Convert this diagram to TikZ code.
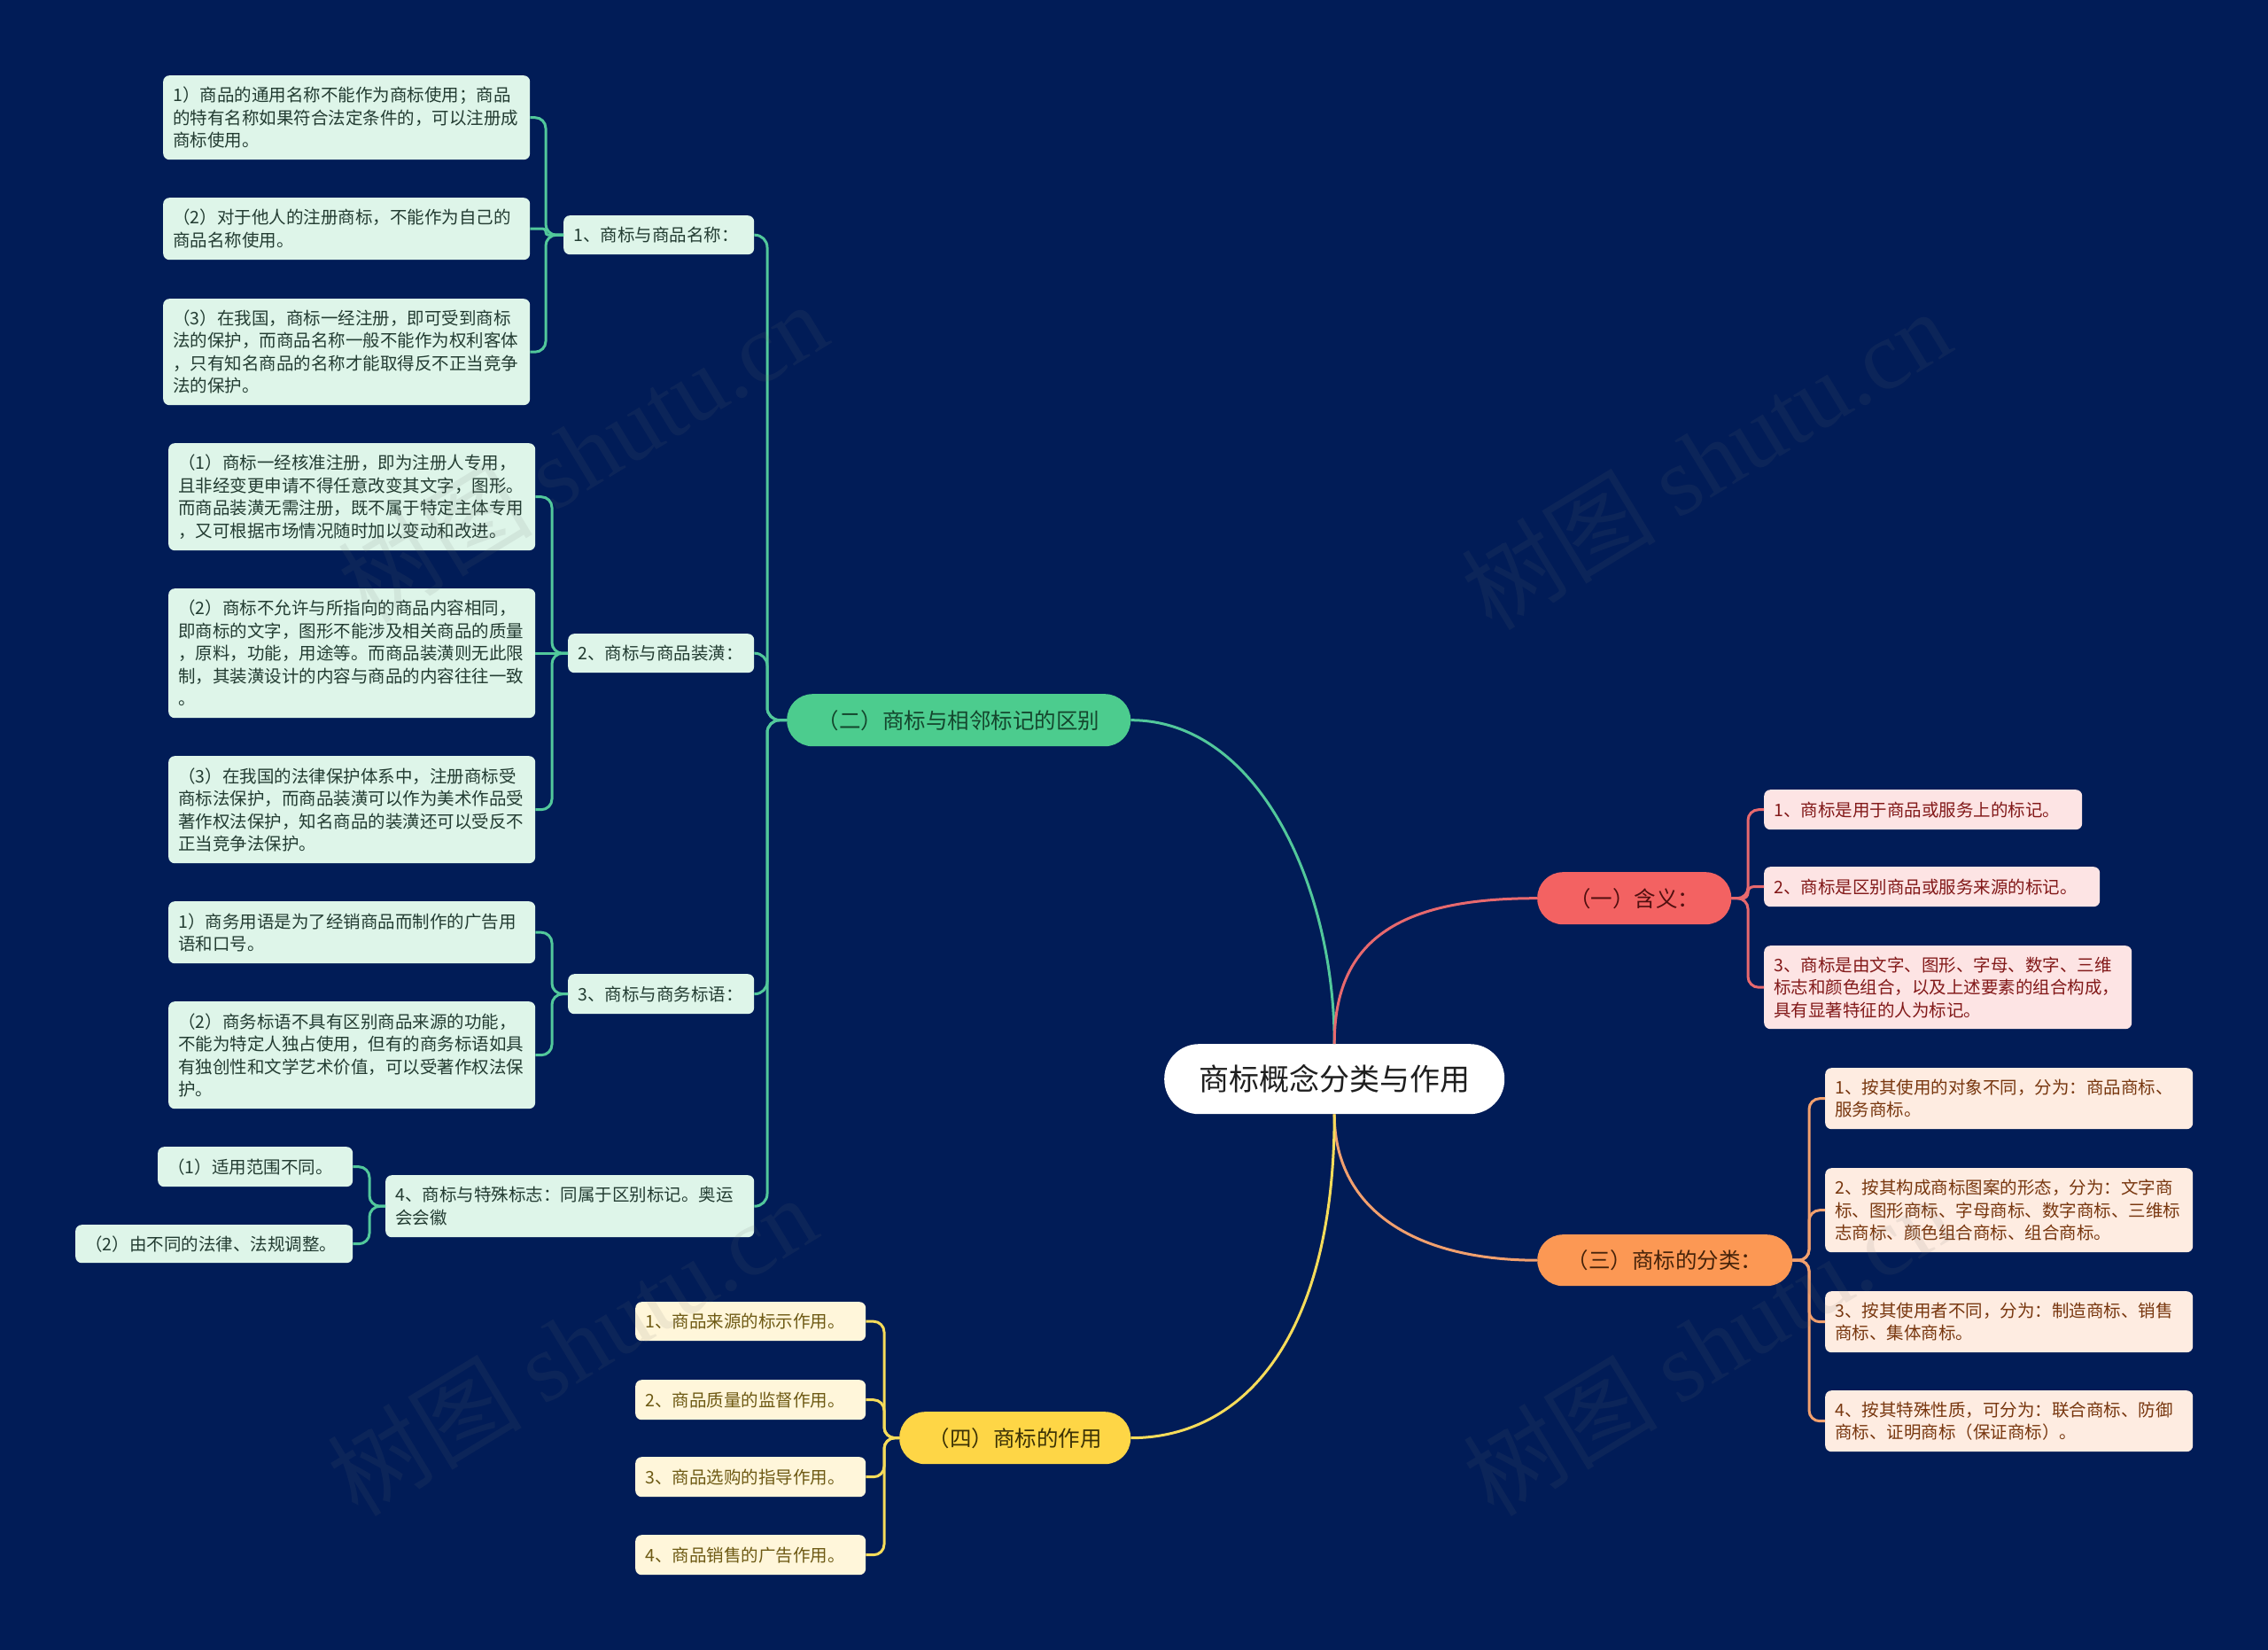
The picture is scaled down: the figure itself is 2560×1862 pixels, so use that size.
\documentclass[tikz,border=0pt]{standalone}
\usepackage{fontspec}
\setmainfont{Noto Sans CJK SC}
\newfontfamily\wmserif{Liberation Serif}
\usetikzlibrary{calc}

\definecolor{bg}{RGB}{1,28,87}
\definecolor{gMain}{RGB}{76,204,142}
\definecolor{gLight}{RGB}{222,245,233}
\definecolor{gText}{RGB}{35,60,50}
\definecolor{gMainText}{RGB}{20,70,45}
\definecolor{gLine}{RGB}{82,200,155}
\definecolor{pMain}{RGB}{243,98,98}
\definecolor{pLight}{RGB}{253,228,228}
\definecolor{pText}{RGB}{130,25,25}
\definecolor{pMainText}{RGB}{80,15,15}
\definecolor{pLine}{RGB}{232,105,110}
\definecolor{oMain}{RGB}{252,152,84}
\definecolor{oLight}{RGB}{254,236,225}
\definecolor{oText}{RGB}{120,55,15}
\definecolor{oMainText}{RGB}{70,35,10}
\definecolor{oLine}{RGB}{242,160,110}
\definecolor{yMain}{RGB}{254,214,70}
\definecolor{yLight}{RGB}{255,246,218}
\definecolor{yText}{RGB}{110,90,20}
\definecolor{yMainText}{RGB}{60,50,5}
\definecolor{yLine}{RGB}{246,220,90}
\definecolor{rootText}{RGB}{30,30,30}
\definecolor{wm}{RGB}{110,110,110}

\newcommand\leaffont{\fontsize{19.5pt}{25.5pt}\selectfont}
\newcommand\brfont{\fontsize{24.5pt}{30pt}\selectfont}
\newcommand\rtfont{\fontsize{34pt}{40pt}\selectfont}
\newcommand\wmfont{\fontsize{110pt}{120pt}\selectfont}

\tikzset{
  leafbox/.style={anchor=north west, rounded corners=7pt, inner xsep=11pt, inner ysep=0pt, align=left, font=\leaffont},
  gleaf/.style={leafbox, fill=gLight, text=gText},
  pleaf/.style={leafbox, fill=pLight, text=pText},
  oleaf/.style={leafbox, fill=oLight, text=oText},
  yleaf/.style={leafbox, fill=yLight, text=yText},
  branch/.style={anchor=north west, rounded corners=29pt, inner sep=0pt, align=center, font=\brfont},
  conn/.style={line width=3pt},
  gline/.style={conn, draw=gLine},
  pline/.style={conn, draw=pLine},
  oline/.style={conn, draw=oLine},
  yline/.style={conn, draw=yLine},
  bend12/.style={rounded corners=12pt},
  wmark/.style={rotate=31.3, text=wm, opacity=0.11, font=\wmfont, inner sep=0pt}
}

\begin{document}
\begin{tikzpicture}[x=1pt,y=-1pt]
\useasboundingbox (0,0) rectangle (2560,1862);
\fill[bg] (0,0) rectangle (2560,1862);

% root
\node[anchor=north west, rounded corners=39pt, fill=white, text=rootText, font=\rtfont,
      minimum width=384pt, minimum height=79pt, inner sep=0pt] (root) at (1314,1178) {商标概念分类与作用};

% branches
\node[branch, fill=gMain, text=gMainText, minimum width=388pt, minimum height=59pt] (n2) at (888,783) {（二）商标与相邻标记的区别};
\node[branch, fill=pMain, text=pMainText, minimum width=219pt, minimum height=59pt] (n1) at (1735,984) {（一）含义：};
\node[branch, fill=oMain, text=oMainText, minimum width=288pt, minimum height=58pt] (n3) at (1735,1393) {（三）商标的分类：};
\node[branch, fill=yMain, text=yMainText, minimum width=261pt, minimum height=59pt] (n4) at (1015,1593) {（四）商标的作用};

% green level 1
\node[gleaf, text width=193pt, minimum height=44pt] (L11) at (636,243) {1、商标与商品名称：};
\node[gleaf, text width=188pt, minimum height=44pt] (L12) at (641,715) {2、商标与商品装潢：};
\node[gleaf, text width=188pt, minimum height=45pt] (L13) at (641,1099) {3、商标与商务标语：};
\node[gleaf, text width=394pt, minimum height=70pt] (L14) at (435,1326) {4、商标与特殊标志：同属于区别标记。奥运\\会会徽};

% green leaves
\node[gleaf, text width=392pt, minimum height=95pt] (g11) at (184,85) {1）商品的通用名称不能作为商标使用；商品\\的特有名称如果符合法定条件的，可以注册成\\商标使用。};
\node[gleaf, text width=392pt, minimum height=70pt] (g12) at (184,223) {（2）对于他人的注册商标，不能作为自己的\\商品名称使用。};
\node[gleaf, text width=392pt, minimum height=120pt] (g13) at (184,337) {（3）在我国，商标一经注册，即可受到商标\\法的保护，而商品名称一般不能作为权利客体\\，只有知名商品的名称才能取得反不正当竞争\\法的保护。};
\node[gleaf, text width=392pt, minimum height=121pt] (g21) at (190,500) {（1）商标一经核准注册，即为注册人专用，\\且非经变更申请不得任意改变其文字，图形。\\而商品装潢无需注册，既不属于特定主体专用\\，又可根据市场情况随时加以变动和改进。};
\node[gleaf, text width=392pt, minimum height=146pt] (g22) at (190,664) {（2）商标不允许与所指向的商品内容相同，\\即商标的文字，图形不能涉及相关商品的质量\\，原料，功能，用途等。而商品装潢则无此限\\制，其装潢设计的内容与商品的内容往往一致\\。};
\node[gleaf, text width=392pt, minimum height=121pt] (g23) at (190,853) {（3）在我国的法律保护体系中，注册商标受\\商标法保护，而商品装潢可以作为美术作品受\\著作权法保护，知名商品的装潢还可以受反不\\正当竞争法保护。};
\node[gleaf, text width=392pt, minimum height=70pt] (g31) at (190,1017) {1）商务用语是为了经销商品而制作的广告用\\语和口号。};
\node[gleaf, text width=392pt, minimum height=121pt] (g32) at (190,1130) {（2）商务标语不具有区别商品来源的功能，\\不能为特定人独占使用，但有的商务标语如具\\有独创性和文学艺术价值，可以受著作权法保\\护。};
\node[gleaf, text width=198pt, minimum height=45pt] (g41) at (178,1294) {（1）适用范围不同。};
\node[gleaf, text width=291pt, minimum height=43pt] (g42) at (85,1382) {（2）由不同的法律、法规调整。};

% pink leaves
\node[pleaf, text width=337pt, minimum height=45pt] (r1) at (1991,891) {1、商标是用于商品或服务上的标记。};
\node[pleaf, text width=357pt, minimum height=45pt] (r2) at (1991,978) {2、商标是区别商品或服务来源的标记。};
\node[pleaf, text width=393pt, minimum height=94pt] (r3) at (1991,1067) {3、商标是由文字、图形、字母、数字、三维\\标志和颜色组合，以及上述要素的组合构成，\\具有显著特征的人为标记。};

% orange leaves
\node[oleaf, text width=393pt, minimum height=69pt] (o1) at (2060,1205) {1、按其使用的对象不同，分为：商品商标、\\服务商标。};
\node[oleaf, text width=393pt, minimum height=95pt] (o2) at (2060,1318) {2、按其构成商标图案的形态，分为：文字商\\标、图形商标、字母商标、数字商标、三维标\\志商标、颜色组合商标、组合商标。};
\node[oleaf, text width=393pt, minimum height=69pt] (o3) at (2060,1457) {3、按其使用者不同，分为：制造商标、销售\\商标、集体商标。};
\node[oleaf, text width=393pt, minimum height=69pt] (o4) at (2060,1569) {4、按其特殊性质，可分为：联合商标、防御\\商标、证明商标（保证商标）。};

% yellow leaves
\node[yleaf, text width=238pt, minimum height=44pt] (y1) at (717,1469) {1、商品来源的标示作用。};
\node[yleaf, text width=238pt, minimum height=45pt] (y2) at (717,1557) {2、商品质量的监督作用。};
\node[yleaf, text width=238pt, minimum height=45pt] (y3) at (717,1644) {3、商品选购的指导作用。};
\node[yleaf, text width=238pt, minimum height=45pt] (y4) at (717,1732) {4、商品销售的广告作用。};

% spine coordinates
\coordinate (sG) at (866,0);
\coordinate (sG1) at (616,0);
\coordinate (sG2) at (623,0);
\coordinate (sG3) at (623,0);
\coordinate (sG4) at (417,0);
\coordinate (sP) at (1973,0);
\coordinate (sO) at (2042,0);
\coordinate (sY) at (998,0);

% root to branches
\draw[gline] (root.north) .. controls (1506,1000) and (1420,812.5) .. (n2.east);
\draw[pline] (root.north) .. controls (1506,1060) and (1580,1013.5) .. (n1.west);
\draw[oline] (root.south) .. controls (1506,1360) and (1590,1422) .. (n3.west);
\draw[yline] (root.south) .. controls (1506,1500) and (1410,1622.5) .. (n4.east);

% branch (二) to level 1
\foreach \c in {L11,L12,L13,L14}
  \draw[gline, rounded corners=14pt] (n2.west) -- (n2.west -| sG) -- (\c.east -| sG) -- (\c.east);
% level 1 to leaves
\foreach \c in {g11,g13}
  \draw[gline, bend12] (L11.west) -- (L11.west -| sG1) -- (\c.east -| sG1) -- (\c.east);
\draw[gline, rounded corners=3pt] (L11.west) -- (L11.west -| sG1) -- (g12.east -| sG1) -- (g12.east);
\foreach \c in {g21,g23}
  \draw[gline, bend12] (L12.west) -- (L12.west -| sG2) -- (\c.east -| sG2) -- (\c.east);
\draw[gline] (L12.west) -- (g22.east);
\foreach \c in {g31,g32}
  \draw[gline, bend12] (L13.west) -- (L13.west -| sG3) -- (\c.east -| sG3) -- (\c.east);
\foreach \c in {g41,g42}
  \draw[gline, bend12] (L14.west) -- (L14.west -| sG4) -- (\c.east -| sG4) -- (\c.east);

% (一)
\foreach \c in {r1,r3}
  \draw[pline, bend12] (n1.east) -- (n1.east -| sP) -- (\c.west -| sP) -- (\c.west);
\draw[pline, rounded corners=6pt] (n1.east) -- (n1.east -| sP) -- (r2.west -| sP) -- (r2.west);
% (三)
\foreach \c in {o1,o2,o3,o4}
  \draw[oline, bend12] (n3.east) -- (n3.east -| sO) -- (\c.west -| sO) -- (\c.west);
% (四)
\foreach \c in {y1,y2,y3,y4}
  \draw[yline, bend12] (n4.west) -- (n4.west -| sY) -- (\c.east -| sY) -- (\c.east);

% watermarks
\node[wmark] (wm1) at (657,510) {树图 {\wmserif shutu.cn}};
\node[wmark] (wm2) at (1925,518) {树图 {\wmserif shutu.cn}};
\node[wmark] (wm3) at (645,1518) {树图 {\wmserif shutu.cn}};
\node[wmark] (wm4) at (1927,1518) {树图 {\wmserif shutu.cn}};
\end{tikzpicture}
\end{document}
